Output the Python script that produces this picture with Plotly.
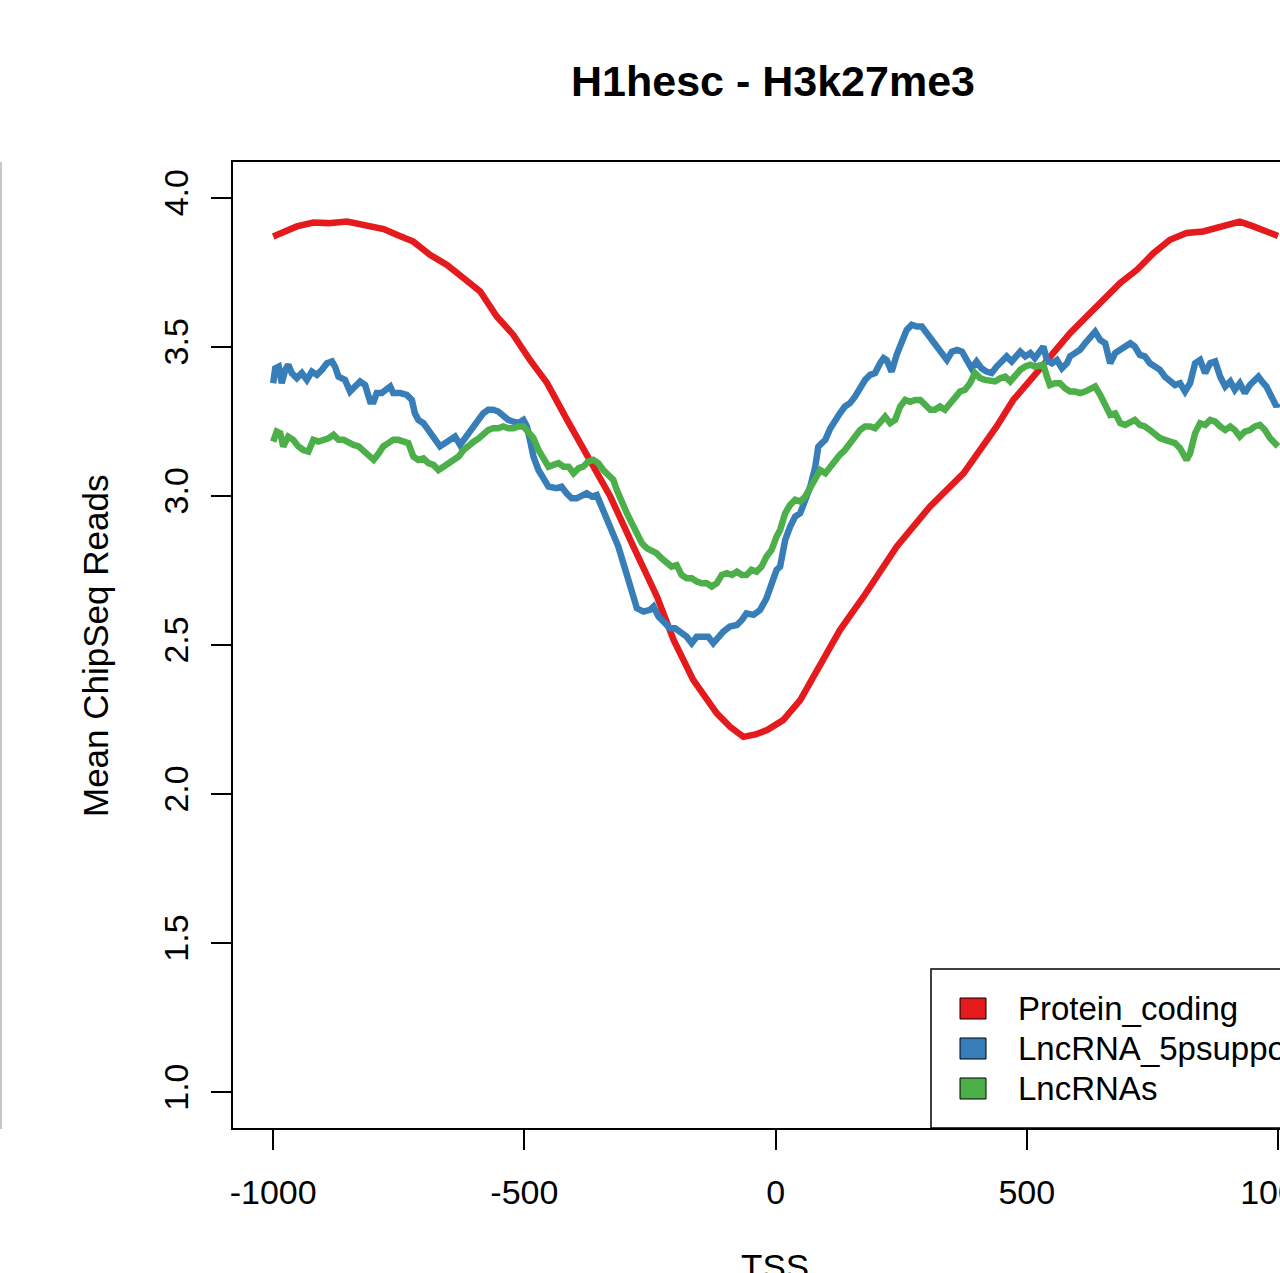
import plotly.graph_objects as go

# ---------------- data ----------------
series_names = ["Protein_coding", "LncRNA_5psupported", "LncRNAs"]
series_colors = ["#E41A1C", "#377EB8", "#4DAF4A"]

red_x = [-1000, -975, -953, -920, -890, -853, -830, -807, -780, -754, -721, -688, -654, -622,
         -588, -555, -522, -489, -455, -415, -369, -329, -283, -236, -203, -164, -117, -90,
         -64, -40, -17, 15, 49, 89, 128, 175, 241, 307, 374, 440, 473, 513, 553, 586, 619,
         652, 686, 719, 752, 785, 818, 851, 885, 924, 951, 984, 1000]
red_y = [3.870, 3.890, 3.904, 3.917, 3.915, 3.920, 3.912, 3.909, 3.895, 3.876, 3.853, 3.809,
         3.775, 3.732, 3.686, 3.602, 3.540, 3.456, 3.379, 3.255, 3.121, 2.998, 2.830, 2.662,
         2.517, 2.383, 2.271, 2.225, 2.192, 2.200, 2.215, 2.248, 2.315, 2.439, 2.550, 2.662,
         2.830, 2.964, 3.076, 3.233, 3.322, 3.400, 3.479, 3.546, 3.602, 3.658, 3.714, 3.758,
         3.814, 3.859, 3.882, 3.887, 3.904, 3.920, 3.904, 3.882, 3.872]

blue_x = [-1000, -996, -989, -983, -976, -970, -963, -953, -943, -933, -923, -913, -903, -893,
          -883, -877, -870, -857, -847, -837, -827, -817, -807, -800, -794, -784, -774, -767,
          -761, -747, -734, -724, -718, -711, -701, -688, -678, -668, -658, -648, -638, -628,
          -621, -611, -601, -591, -582, -572, -562, -552, -542, -532, -522, -512, -502, -495,
          -489, -482, -472, -462, -452, -436, -426, -416, -406, -396, -386, -376, -366, -356,
          -349, -336, -323, -313, -303, -293, -283, -276, -263, -250, -243, -233, -220, -210,
          -200, -187, -177, -167, -157, -144, -134, -124, -114, -104, -91, -77, -67, -58, -44,
          -31, -18, -8, 2, 9, 19, 29, 39, 49, 59, 69, 79, 85, 92, 99, 109, 118, 128, 138, 148,
          158, 168, 178, 188, 198, 208, 215, 221, 231, 241, 251, 261, 271, 281, 291, 301, 311,
          321, 331, 341, 351, 361, 371, 380, 390, 400, 410, 420, 430, 440, 450, 460, 470, 480,
          487, 497, 507, 516, 526, 533, 540, 550, 560, 570, 580, 586, 596, 606, 616, 626, 636,
          646, 656, 666, 676, 686, 696, 706, 715, 725, 735, 745, 755, 765, 775, 785, 795, 805,
          815, 825, 835, 845, 855, 865, 875, 885, 895, 905, 914, 924, 934, 944, 954, 961, 968,
          977, 987, 997, 1000]
blue_y = [3.378, 3.428, 3.434, 3.378, 3.423, 3.440, 3.412, 3.395, 3.412, 3.389, 3.417, 3.406,
          3.423, 3.445, 3.451, 3.434, 3.400, 3.389, 3.350, 3.367, 3.384, 3.372, 3.317, 3.317,
          3.345, 3.345, 3.356, 3.367, 3.345, 3.345, 3.339, 3.322, 3.277, 3.255, 3.244, 3.210,
          3.188, 3.166, 3.177, 3.188, 3.199, 3.171, 3.188, 3.210, 3.233, 3.255, 3.277, 3.289,
          3.289, 3.283, 3.266, 3.255, 3.249, 3.244, 3.255, 3.233, 3.188, 3.132, 3.087, 3.054,
          3.031, 3.026, 3.031, 3.009, 2.992, 2.992, 2.998, 3.009, 2.998, 3.003, 2.975, 2.920,
          2.875, 2.830, 2.774, 2.718, 2.651, 2.623, 2.612, 2.618, 2.629, 2.595, 2.573, 2.556,
          2.556, 2.539, 2.528, 2.506, 2.528, 2.528, 2.528, 2.506, 2.528, 2.545, 2.562, 2.567,
          2.584, 2.606, 2.601, 2.617, 2.657, 2.707, 2.752, 2.763, 2.852, 2.897, 2.931, 2.942,
          2.986, 3.031, 3.098, 3.165, 3.177, 3.188, 3.227, 3.255, 3.277, 3.300, 3.311, 3.333,
          3.367, 3.389, 3.406, 3.412, 3.445, 3.462, 3.456, 3.417, 3.473, 3.523, 3.557, 3.574,
          3.568, 3.568, 3.546, 3.529, 3.507, 3.479, 3.456, 3.484, 3.490, 3.484, 3.462, 3.428,
          3.451, 3.428, 3.417, 3.412, 3.434, 3.451, 3.468, 3.451, 3.473, 3.484, 3.468, 3.479,
          3.462, 3.490, 3.501, 3.456, 3.445, 3.456, 3.428, 3.445, 3.468, 3.479, 3.490, 3.512,
          3.535, 3.551, 3.523, 3.512, 3.445, 3.479, 3.490, 3.501, 3.512, 3.501, 3.473, 3.468,
          3.445, 3.434, 3.423, 3.400, 3.384, 3.372, 3.378, 3.350, 3.378, 3.445, 3.456, 3.412,
          3.445, 3.451, 3.400, 3.367, 3.384, 3.356, 3.378, 3.345, 3.372, 3.389, 3.400, 3.384,
          3.367, 3.333, 3.300, 3.311]

green_x = [-1000, -993, -986, -980, -970, -960, -950, -940, -930, -920, -910, -900, -890, -880,
           -870, -860, -850, -840, -830, -820, -810, -800, -790, -781, -771, -761, -751, -741,
           -731, -721, -711, -701, -691, -681, -671, -661, -651, -641, -631, -621, -611, -601,
           -591, -582, -572, -562, -552, -542, -532, -522, -512, -502, -492, -482, -472, -462,
           -452, -442, -432, -422, -412, -402, -392, -383, -373, -363, -353, -343, -333, -323,
           -316, -306, -296, -286, -276, -266, -256, -247, -237, -227, -217, -207, -197, -187,
           -177, -167, -157, -147, -137, -127, -117, -107, -97, -87, -77, -67, -58, -48, -38,
           -28, -18, -8, 2, 9, 19, 29, 39, 49, 59, 69, 79, 89, 99, 109, 118, 128, 138, 148, 158,
           168, 178, 188, 198, 208, 218, 228, 238, 248, 258, 268, 278, 288, 298, 308, 317, 327,
           337, 347, 357, 367, 377, 387, 397, 407, 417, 427, 437, 447, 457, 467, 477, 487, 497,
           507, 516, 526, 533, 540, 546, 556, 566, 576, 586, 596, 606, 616, 626, 636, 646, 656,
           666, 676, 686, 696, 706, 715, 725, 735, 745, 755, 765, 775, 785, 795, 805, 812, 818,
           825, 835, 845, 855, 865, 875, 885, 895, 905, 914, 924, 934, 944, 954, 964, 974, 984,
           994, 1000]
green_y = [3.182, 3.216, 3.210, 3.166, 3.199, 3.188, 3.166, 3.154, 3.149, 3.188, 3.182, 3.188,
           3.193, 3.205, 3.188, 3.188, 3.177, 3.171, 3.166, 3.149, 3.132, 3.121, 3.143, 3.166,
           3.177, 3.188, 3.188, 3.182, 3.177, 3.132, 3.121, 3.126, 3.110, 3.104, 3.087, 3.098,
           3.110, 3.121, 3.132, 3.154, 3.171, 3.182, 3.193, 3.210, 3.221, 3.227, 3.227, 3.233,
           3.227, 3.227, 3.233, 3.233, 3.216, 3.194, 3.154, 3.121, 3.098, 3.104, 3.110, 3.098,
           3.098, 3.076, 3.093, 3.098, 3.115, 3.121, 3.110, 3.087, 3.071, 3.054, 3.020, 2.975,
           2.942, 2.908, 2.875, 2.841, 2.824, 2.819, 2.808, 2.791, 2.780, 2.763, 2.768, 2.735,
           2.724, 2.724, 2.713, 2.707, 2.707, 2.696, 2.707, 2.735, 2.741, 2.735, 2.746, 2.735,
           2.735, 2.752, 2.746, 2.763, 2.797, 2.819, 2.864, 2.886, 2.942, 2.970, 2.987, 2.981,
           2.998, 3.031, 3.065, 3.087, 3.076, 3.098, 3.121, 3.138, 3.154, 3.177, 3.199, 3.221,
           3.233, 3.233, 3.227, 3.244, 3.266, 3.244, 3.255, 3.300, 3.322, 3.316, 3.322, 3.322,
           3.305, 3.289, 3.289, 3.300, 3.289, 3.311, 3.333, 3.350, 3.356, 3.378, 3.412, 3.395,
           3.389, 3.389, 3.384, 3.395, 3.400, 3.384, 3.406, 3.423, 3.434, 3.440, 3.434, 3.440,
           3.440, 3.400, 3.372, 3.378, 3.378, 3.361, 3.350, 3.350, 3.345, 3.350, 3.361, 3.367,
           3.339, 3.300, 3.272, 3.277, 3.244, 3.238, 3.249, 3.255, 3.238, 3.233, 3.221, 3.205,
           3.194, 3.188, 3.182, 3.177, 3.160, 3.138, 3.121, 3.143, 3.210, 3.244, 3.238, 3.255,
           3.249, 3.233, 3.221, 3.233, 3.221, 3.199, 3.216, 3.221, 3.233, 3.238, 3.221, 3.194,
           3.177, 3.166]

x_tick_vals = [-1000, -500, 0, 500, 1000]
x_tick_text = ["-1000", "-500", "0", "500", "1000"]
y_tick_vals = [1.0, 1.5, 2.0, 2.5, 3.0, 3.5, 4.0]
y_tick_text = ["1.0", "1.5", "2.0", "2.5", "3.0", "3.5", "4.0"]

title_text = "H1hesc - H3k27me3"
x_title = "TSS"
y_title = "Mean ChipSeq Reads"

FONT = "Liberation Sans, Arial, Helvetica, sans-serif"

# ---------------- figure ----------------
W, H = 1280, 1273
L, R, T, B = 233, 0, 162, 145
PW, PH = W - L - R, H - T - B


def px(xp):
    return (xp - L) / PW


def py(yp):
    return (H - B - yp) / PH


fig = go.Figure()
all_x = [red_x, blue_x, green_x]
all_y = [red_y, blue_y, green_y]
for name, color, xs, ys in zip(series_names, series_colors, all_x, all_y):
    fig.add_trace(go.Scatter(x=xs, y=ys, mode="lines", name=name,
                             line=dict(color=color, width=6.5), showlegend=False))

axis_common = dict(showgrid=False, zeroline=False, showline=True, linecolor="black",
                   linewidth=1.5, ticks="outside", ticklen=20, tickwidth=1.5,
                   tickcolor="black", automargin=False,
                   tickfont=dict(family=FONT, size=34, color="black"))

fig.update_xaxes(range=[-1080, 1004], tickvals=x_tick_vals, ticktext=x_tick_text, mirror=True,
                 ticklabelstandoff=13, ticklabeloverflow="allow", **axis_common)
fig.update_yaxes(range=[0.88, 4.12], tickvals=y_tick_vals, ticktext=y_tick_text,
                 tickangle=-90, ticklabelstandoff=10, **axis_common)

annotations = [
    dict(text="<b>" + title_text + "</b>", x=px(773), y=py(81), xref="paper", yref="paper",
         showarrow=False, xanchor="center", yanchor="middle",
         font=dict(family=FONT, size=43, color="black")),
    dict(text=y_title, x=px(95), y=py(646), xref="paper", yref="paper", textangle=-90,
         showarrow=False, xanchor="center", yanchor="middle",
         font=dict(family=FONT, size=35, color="black")),
    dict(text=x_title, x=px(775), y=py(1266), xref="paper", yref="paper",
         showarrow=False, xanchor="center", yanchor="middle",
         font=dict(family=FONT, size=35, color="black")),
]

shapes = [
    # faint border of neighbouring panel at the far left
    dict(type="line", xref="paper", yref="paper", x0=px(1), x1=px(1), y0=py(1129), y1=py(162),
         line=dict(color="#c8c8c8", width=2)),
    # legend box
    dict(type="rect", xref="paper", yref="paper", x0=px(931), x1=px(1400), y0=py(1128),
         y1=py(969), line=dict(color="black", width=1.5), fillcolor="white", layer="above"),
]

for i, (name, color) in enumerate(zip(series_names, series_colors)):
    cy = 1008.5 + 40 * i
    shapes.append(dict(type="rect", xref="paper", yref="paper", x0=px(960), x1=px(986),
                       y0=py(cy + 10.5), y1=py(cy - 10.5), fillcolor=color,
                       line=dict(color="black", width=1), layer="above"))
    annotations.append(dict(text=name, x=px(1016), y=py(cy), xref="paper", yref="paper",
                            showarrow=False, xanchor="left", yanchor="middle",
                            font=dict(family=FONT, size=33, color="black")))

fig.update_layout(width=W, height=H, margin=dict(l=L, r=R, t=T, b=B, pad=0, autoexpand=False),
                  paper_bgcolor="white", plot_bgcolor="white", showlegend=False,
                  annotations=annotations, shapes=shapes)

fig.write_html("out.html", config={"displayModeBar": False},
               post_script="document.body.style.margin='0';document.body.style.overflow='hidden';")
